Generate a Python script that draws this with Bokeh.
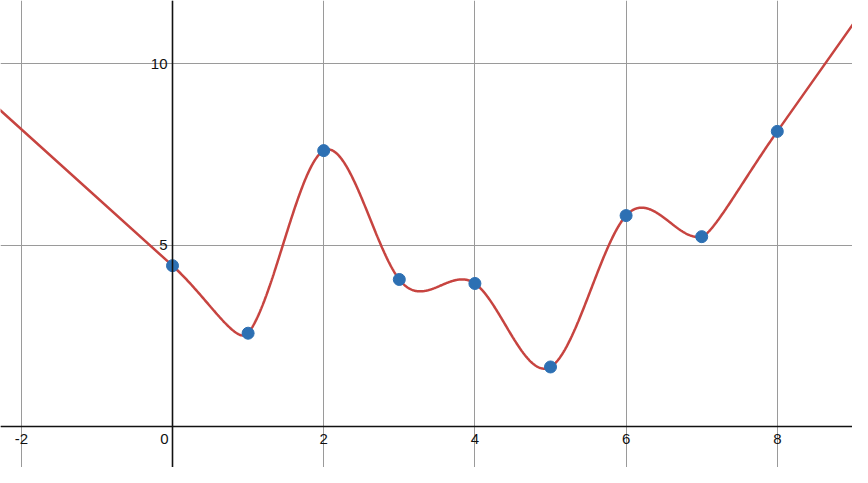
import numpy as np
from bokeh.plotting import figure
from bokeh.models import SingleIntervalTicker, Span, Range1d
from bokeh.core.properties import value
from bokeh.embed import file_html
from bokeh.resources import INLINE

# data points
xs = [0, 1, 2, 3, 4, 5, 6, 7, 8]
ys = [4.43, 2.57, 7.6, 4.05, 3.94, 1.64, 5.81, 5.23, 8.13]
# slopes of the straight runs beyond the first and last points
slope_left = -1.88
slope_right = 2.95

x_ticks = [-2, 0, 2, 4, 6, 8]
x_tick_labels = ["-2", "0", "2", "4", "6", "8"]
y_ticks = [5, 10]
y_tick_labels = ["5", "10"]

W, H = 852, 467
PXX, PXY = 75.6, 36.3           # pixels per data unit
X0 = -172 / PXX
X1 = X0 + W / PXX
Y1 = 426 / PXY
Y0 = Y1 - H / PXY


def clamped_spline(xk, yk, s0, sn):
    x = np.array(xk, float); y = np.array(yk, float); n = len(x); h = np.diff(x)
    A = np.zeros((n, n)); b = np.zeros(n)
    A[0, 0] = 2 * h[0]; A[0, 1] = h[0]; b[0] = 6 * ((y[1] - y[0]) / h[0] - s0)
    A[-1, -1] = 2 * h[-1]; A[-1, -2] = h[-1]; b[-1] = 6 * (sn - (y[-1] - y[-2]) / h[-1])
    for i in range(1, n - 1):
        A[i, i - 1] = h[i - 1]; A[i, i] = 2 * (h[i - 1] + h[i]); A[i, i + 1] = h[i]
        b[i] = 6 * ((y[i + 1] - y[i]) / h[i] - (y[i] - y[i - 1]) / h[i - 1])
    M = np.linalg.solve(A, b)

    def ev(t):
        i = min(max(np.searchsorted(x, t) - 1, 0), n - 2)
        a = x[i + 1] - t; c = t - x[i]; hi = h[i]
        return (M[i] * a ** 3 / (6 * hi) + M[i + 1] * c ** 3 / (6 * hi)
                + (y[i] / hi - M[i] * hi / 6) * a + (y[i + 1] / hi - M[i + 1] * hi / 6) * c)

    def der(i):
        if i < n - 1:
            return (y[i + 1] - y[i]) / h[i] - h[i] * (2 * M[i] + M[i + 1]) / 6
        return (y[-1] - y[-2]) / h[-1] + h[-1] * (M[-2] + 2 * M[-1]) / 6
    return ev, der


ev, der = clamped_spline(xs, ys, slope_left, slope_right)
t1 = der(1)
tn = der(len(xs) - 2)


def bez(b0, b1, b2, b3, m=80):
    u = np.linspace(0, 1, m)[:, None]
    return ((1 - u) ** 3 * b0 + 3 * (1 - u) ** 2 * u * b1
            + 3 * (1 - u) * u ** 2 * b2 + u ** 3 * b3)


h_out, h_in = 0.45, 0.15
pa = np.array([xs[0], ys[0]], float)
pb = np.array([xs[1], ys[1]], float)
left = bez(pa, pa + h_out * np.array([1, slope_left]),
           pb - h_in * np.array([1, t1]), pb)
pc = np.array([xs[-2], ys[-2]], float)
pd = np.array([xs[-1], ys[-1]], float)
right = bez(pc, pc + h_in * np.array([1, tn]),
            pd - h_out * np.array([1, slope_right]), pd)
mid_x = np.linspace(xs[1], xs[-2], 900)
mid_y = np.array([ev(t) for t in mid_x])

lx, rx = X0 - 0.3, X1 + 0.3
cx = np.concatenate([[lx], left[:, 0], mid_x, right[:, 0], [rx]])
cy = np.concatenate([[ys[0] + slope_left * (lx - xs[0])], left[:, 1], mid_y,
                     right[:, 1], [ys[-1] + slope_right * (rx - xs[-1])]])

p = figure(width=W, height=H, output_backend="svg", toolbar_location=None,
           x_range=Range1d(X0, X1), y_range=Range1d(Y0, Y1), min_border=0)
p.outline_line_color = None
p.background_fill_color = "white"
p.xaxis.visible = False
p.yaxis.visible = False
p.xgrid.ticker = SingleIntervalTicker(interval=2)
p.ygrid.ticker = SingleIntervalTicker(interval=5)
for g in (p.xgrid, p.ygrid):
    g.grid_line_color = "#9a9a9a"
    g.grid_line_width = 1
    g.grid_line_alpha = 1

p.add_layout(Span(location=0, dimension="height", line_color="#111111", line_width=1.6))
p.add_layout(Span(location=0, dimension="width", line_color="#111111", line_width=1.6))

fnt = value("Liberation Sans")
xl_x = [t for t in x_ticks if t != 0]
xl_t = [l for t, l in zip(x_ticks, x_tick_labels) if t != 0]
p.text(x=xl_x, y=[0] * len(xl_x), text=xl_t, text_font=fnt, text_font_size="15px",
       text_align="center", text_baseline="top", y_offset=7, text_color="#111111")
p.text(x=[0], y=[0], text=["0"], text_font=fnt, text_font_size="15px",
       text_align="right", text_baseline="top", x_offset=-4, y_offset=7, text_color="#111111")
p.text(x=[0] * len(y_ticks), y=y_ticks, text=y_tick_labels, text_font=fnt,
       text_font_size="15px", text_align="right", text_baseline="middle",
       x_offset=-5, text_color="#111111")

p.line(cx, cy, line_color="#c74440", line_width=2.5)
p.scatter(xs, ys, size=12, fill_color="#2d70b3", line_color="#2d70b3")

open("out.html", "w").write(file_html(p, INLINE))
